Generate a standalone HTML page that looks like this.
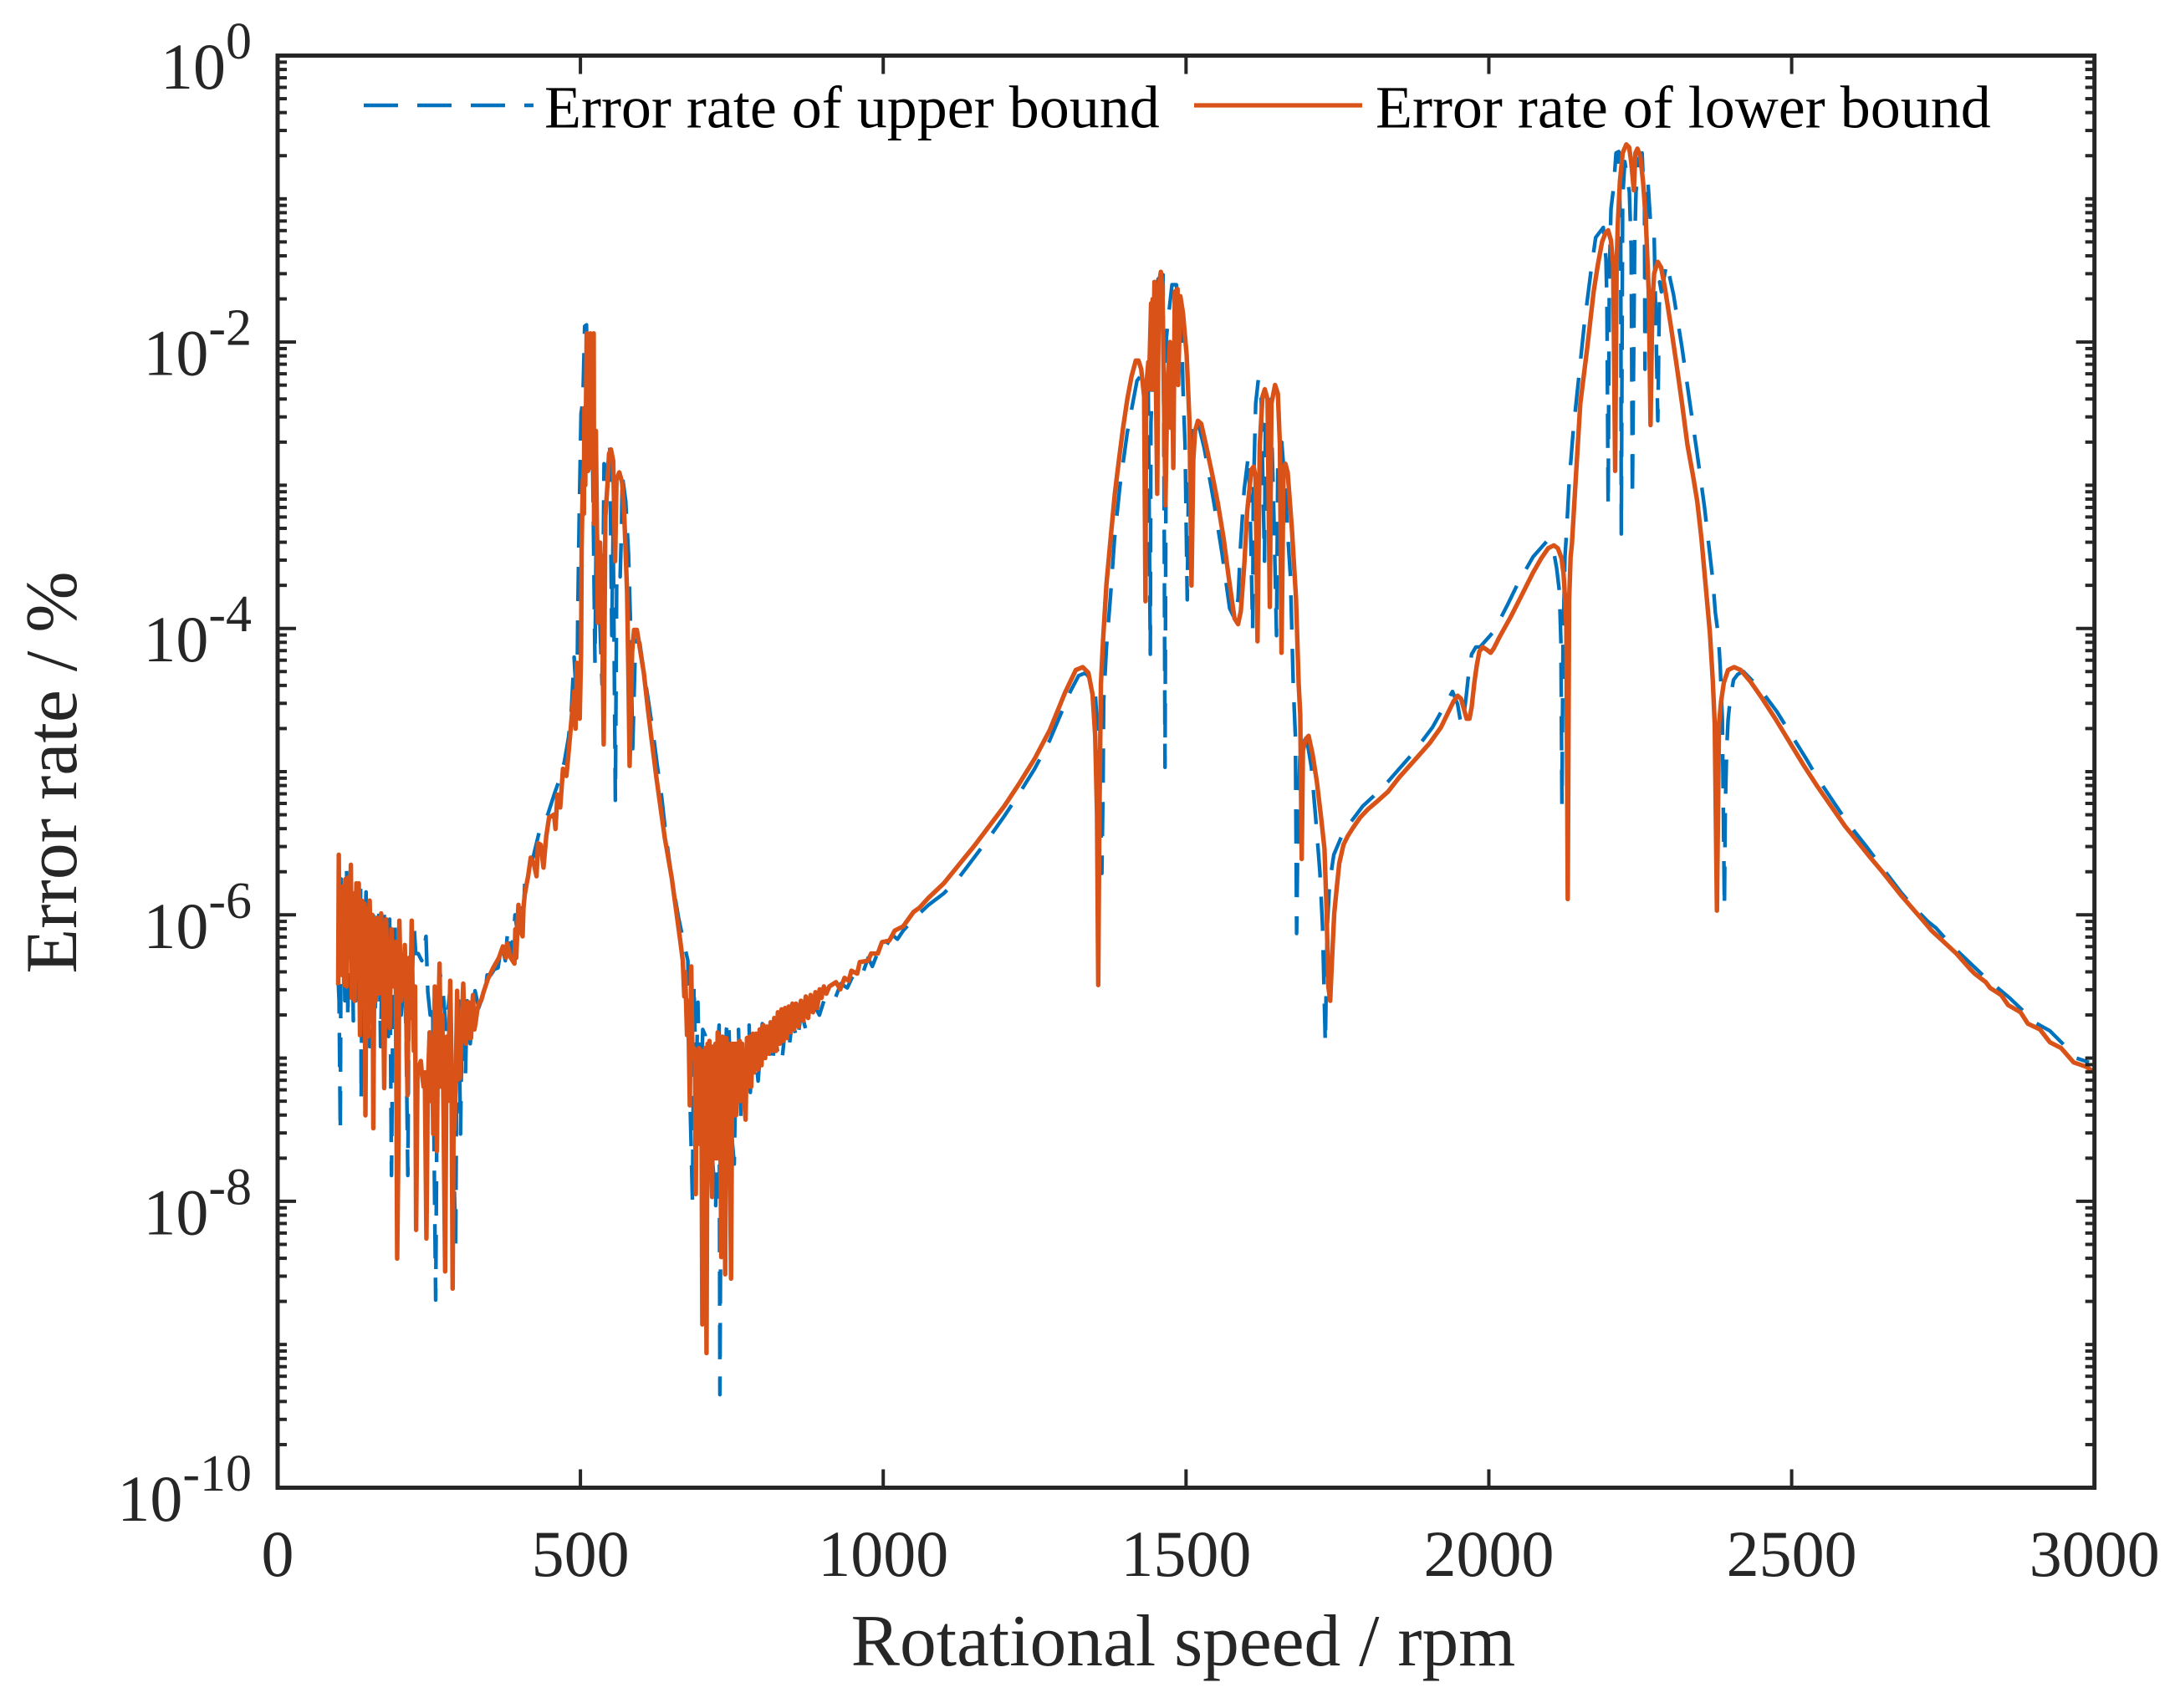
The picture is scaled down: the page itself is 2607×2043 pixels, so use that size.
<!DOCTYPE html>
<html lang="en">
<head>
<meta charset="utf-8">
<title>Error rate versus rotational speed</title>
<style>
html,body{margin:0;padding:0;background:#fff;}
svg{display:block;font-family:"Liberation Serif",serif;}
</style>
</head>
<body>
<svg id="chart" xmlns="http://www.w3.org/2000/svg" width="2607" height="2043" viewBox="0 0 2607 2043">
  <rect x="0" y="0" width="2607" height="2043" fill="#ffffff"/>
  <g id="series"></g>
  <g id="axes"></g>
  <text x="1415" y="1992" font-size="87.5" text-anchor="middle" fill="#262626">Rotational speed / rpm</text>
  <text transform="translate(91,924) rotate(-90)" font-size="88" text-anchor="middle" fill="#262626">Error rate / %</text>
  <g>
    <line x1="435" y1="126" x2="638" y2="126" stroke="#0072BD" stroke-width="4.4" stroke-dasharray="41 23"/>
    <text x="651" y="152.5" font-size="72" fill="#000000">Error rate of upper bound</text>
    <line x1="1428" y1="126" x2="1629" y2="126" stroke="#D95319" stroke-width="5.2"/>
    <text x="1645" y="152.5" font-size="72" fill="#000000">Error rate of lower bound</text>
  </g>
</svg>
<script>
/* Tick values */
const xTickValues = [0, 500, 1000, 1500, 2000, 2500, 3000];
const yLabelExponents = [0, -2, -4, -6, -8, -10];
const yDecadeExponents = [0, -1, -2, -3, -4, -5, -6, -7, -8, -9, -10];
const yMinorMantissas = [2, 3, 4, 5, 6, 7, 8, 9];

/* Series values: [rotational speed in rpm, log10 of the error rate] */
const upperLowSpeed = [[100,-6.45],[101.5,-6.6],[103.5,-7.52],[105,-5.75],[107,-6.4],[109,-5.9],[111,-6.6],[114,-5.69],[116,-6.73],[118,-5.9],[121,-6.3],[123,-6.05],[125,-6.74],[127,-6.0],[129,-6.6],[131,-5.85],[134,-6.5],[137,-5.77],[138,-7.29],[140,-6.0],[143,-6.3],[146,-5.84],[149,-6.5],[152,-6.92],[155,-6.0],[158,-5.96],[161,-6.7],[164,-6.0],[167,-5.95],[170,-6.92],[173,-6.2],[176,-5.99],[179,-6.6],[183,-6.85],[185,-6.03],[188,-7.82],[191,-6.3],[194,-6.07],[197,-7.94],[200,-6.5],[204,-6.7],[208,-6.3],[212,-6.8],[215,-7.82],[217,-6.5],[220,-6.8],[225,-6.05],[228,-6.27],[232,-6.27],[238,-6.32],[245,-6.15],[248,-6.54],[252,-6.7],[256,-6.6],[258,-7.5],[261,-8.69],[264,-6.8],[268,-6.4],[273,-6.53],[278,-6.8],[284,-6.55],[290,-7.6],[294,-8.3],[296,-6.9],[299,-6.6],[302,-7.53],[305,-6.6],[310,-7.13],[313,-6.6],[318,-6.9],[326,-6.53],[332,-6.65],[336,-6.6],[342,-6.55],[346,-6.42],[352,-6.42],[358,-6.38],[364,-6.37],[370,-6.2],[376,-6.32],[380,-6.1],[386,-6.3],[392,-6.0],[396,-6.12],[398,-5.95],[403,-5.93],[406,-5.98],[409,-5.7]];
const upperFirstPeak = [[420.6,-5.62],[432,-5.42],[446,-5.3],[457.4,-5.15],[466.6,-5.04],[473.5,-4.93],[480.4,-4.76],[485,-4.57],[489.6,-4.2],[494.2,-4.56],[495.6,-3.9],[498,-3.22],[501,-2.5],[504,-2.41],[507,-1.89],[510,-1.88],[515,-2.91],[517,-1.95],[519.6,-2.62],[524,-4.24],[526.5,-3.09],[530,-3.7],[535.7,-4.39],[539,-2.85],[544,-2.9],[548.5,-2.72],[551.8,-4.05],[554,-3.3],[557.7,-5.2],[560,-3.6],[565.6,-3.64],[568,-3.27],[569,-2.93],[574.8,-3.11],[579.4,-3.48],[582.6,-3.95],[586.3,-4.84],[591,-4.08],[598,-4.1],[605,-4.31],[612,-4.5],[620,-4.73],[627,-4.96],[634,-5.17],[641,-5.44],[650,-5.72]];
const upperNoisyValley = [[662,-6.02],[671,-6.2],[677.4,-6.32],[681,-7.3],[685,-8.0],[687.5,-6.48],[691,-7.2],[694,-6.61],[698,-7.5],[702,-6.8],[706,-6.84],[710,-7.5],[714,-6.9],[718,-7.7],[723.4,-8.03],[726,-7.0],[729,-6.77],[730.3,-9.35],[733,-6.95],[737,-7.6],[741,-6.8],[745,-6.73],[749,-7.5],[754,-7.74],[757,-6.95],[761,-6.8],[765,-7.43],[769,-7.0],[773,-7.1],[778.6,-6.77],[780.5,-7.24],[786,-6.85],[793.4,-7.16],[800.3,-6.76],[806,-7.0],[811,-6.85],[816.4,-7.05],[822,-6.85],[827,-7.0],[832.5,-7.03],[838,-6.8],[844,-6.94],[850,-6.74],[858,-6.88],[865,-6.68],[872,-6.8],[878.5,-6.77],[886,-6.63],[894.6,-6.7],[905,-6.56],[920,-6.59],[930,-6.48],[940.6,-6.51],[955,-6.38],[966,-6.41],[975,-6.3],[982,-6.36],[995,-6.22],[1003,-6.23],[1015,-6.14],[1023.5,-6.17],[1033,-6.11]];
const upperRise = [[1050,-6.03],[1075,-5.93],[1100,-5.85],[1125,-5.74],[1150,-5.6],[1175,-5.46],[1200,-5.31],[1225,-5.15],[1250,-4.98],[1275,-4.78],[1300,-4.53],[1309,-4.44],[1322.6,-4.33],[1334,-4.31],[1343,-4.36],[1350,-4.44],[1353,-4.66],[1358,-5.1],[1361,-5.71],[1363,-5.1],[1364,-4.51]];
const upperSecondPeak = [[1368.6,-4.13],[1375.5,-3.76],[1382,-3.37],[1390.7,-3.01],[1403,-2.63],[1419,-2.27],[1432,-2.2],[1437.6,-2.33],[1441,-4.18],[1442,-2.57],[1444,-2.33],[1453.8,-1.56],[1462,-1.53],[1464,-3.3],[1465.3,-4.97],[1467.6,-1.97],[1471,-1.82],[1476.8,-1.6],[1484,-1.6],[1493,-1.97],[1495,-2.33],[1498.4,-2.72],[1502,-3.8],[1504,-3.0],[1513.6,-2.55],[1518,-2.53],[1530,-2.74],[1546,-3.12],[1559.6,-3.48],[1572,-3.86],[1580,-3.93],[1586,-3.79],[1590,-3.42],[1596,-3.03],[1603,-2.79],[1606,-3.2],[1610,-4.0],[1611,-3.1],[1615,-2.43],[1619.4,-2.26],[1624,-2.38],[1629.6,-3.53],[1631,-2.57],[1640,-2.4],[1645,-3.2],[1649.4,-4.05],[1651.6,-2.82],[1658,-2.7],[1664.5,-3.06],[1667,-3.28],[1672.4,-3.64],[1677,-4.39],[1680.6,-4.76],[1682.6,-6.13],[1684.5,-5.5],[1688.6,-4.78],[1693,-4.77],[1700,-4.79],[1707,-4.97],[1714,-5.32],[1721,-5.7],[1725.4,-6.08],[1730,-6.9],[1733,-6.1],[1737,-5.78],[1744,-5.58],[1760,-5.42],[1792,-5.24],[1815,-5.15]];
const upperMidRange = [[1833.5,-5.07],[1852,-4.98],[1875,-4.87],[1907,-4.69],[1925.5,-4.55],[1940,-4.44],[1948.5,-4.53],[1954,-4.67],[1958,-4.63],[1963,-4.46],[1967,-4.3],[1971.6,-4.18],[1978.5,-4.13],[1985.4,-4.13],[2008.4,-4.02],[2031.4,-3.83],[2047.5,-3.69],[2073,-3.5],[2096,-3.39],[2105,-3.41],[2112,-3.58],[2116.5,-3.74],[2119,-4.09],[2120.7,-5.23],[2122.5,-4.09],[2125.7,-3.5]];
const upperThirdPeak = [[2128,-3.35],[2132.6,-2.98],[2139.5,-2.61],[2148.7,-2.24],[2158,-1.86],[2169.4,-1.48],[2176.4,-1.27],[2189,-1.2],[2193.4,-1.42],[2195,-1.73],[2197,-3.15],[2199,-1.52],[2201.7,-1.07],[2206,-0.92],[2210,-0.68],[2214.5,-0.67],[2217.8,-1.3],[2218.7,-3.34],[2221,-0.99],[2224.5,-0.74],[2232,-0.95],[2235,-1.34],[2237,-3.09],[2240.8,-1.32],[2243,-0.95],[2247.7,-0.72],[2253,-0.68],[2257,-1.05],[2257.8,-2.19],[2259.5,-1.2],[2262.4,-0.86],[2267,-1.17],[2273,-1.27],[2279,-2.55],[2282,-1.58],[2285,-1.65],[2293.7,-1.45],[2305,-1.67],[2319,-2.04],[2331.4,-2.41],[2344,-2.78],[2356,-3.15],[2362.7,-3.4],[2370,-3.67],[2374,-3.89],[2379,-4.05],[2382,-4.26],[2383.5,-4.42],[2385.5,-4.63],[2389,-5.95],[2390.4,-5.25],[2392.7,-4.85],[2395,-4.64],[2398.6,-4.49],[2404,-4.36],[2411,-4.32],[2420,-4.3]];
const upperTail = [[2445.6,-4.41],[2475.5,-4.58],[2496,-4.72],[2524,-4.91],[2542,-5.04],[2572,-5.23],[2593,-5.36],[2623,-5.52],[2646,-5.65],[2680,-5.84],[2700,-5.94],[2726,-6.05],[2738,-6.09],[2761,-6.2],[2798,-6.35],[2823,-6.45],[2860,-6.58],[2887,-6.69],[2901,-6.75],[2926.5,-6.81],[2950,-6.91],[2970,-7.0],[2991,-7.03]];

const lowerLowSpeed = [[100,-6.49],[101,-5.58],[102,-6.4],[104,-5.85],[106,-6.42],[108,-5.8],[110,-6.49],[112,-5.75],[114,-6.5],[116,-5.74],[118,-6.3],[121,-5.65],[122.5,-6.58],[125,-5.85],[127,-6.6],[130,-5.78],[132,-6.45],[134,-5.78],[136,-6.84],[139,-5.9],[142,-6.45],[143.5,-5.92],[145,-7.4],[147,-5.95],[149.5,-6.85],[152,-5.9],[155,-6.55],[156.5,-6.0],[158,-7.49],[160,-6.05],[162,-6.6],[164,-6.02],[167,-6.55],[171,-5.99],[174,-6.5],[176,-7.21],[179,-6.03],[182,-6.45],[185,-6.79],[188,-6.1],[191,-6.5],[195,-6.19],[197.4,-8.4],[199.5,-7.59],[201,-6.04],[204,-6.6],[206,-6.4],[208,-6.55],[210,-6.21],[212,-6.6],[214.5,-7.26],[217,-6.3],[219,-6.7],[221.4,-6.04],[223,-6.6],[225,-6.95],[227,-6.5],[228.7,-8.2],[231,-7.09],[236.5,-7.02],[238,-7.1],[241,-7.2],[243,-7.1],[245.7,-8.26],[248,-7.19],[251,-6.82],[253,-7.3],[255,-6.9],[257,-7.53],[259.5,-6.5],[263,-7.65],[265,-6.8],[267.4,-6.34],[270,-7.2],[272,-6.7],[274,-7.4],[276.6,-8.49],[279,-6.85],[281,-7.3],[283,-6.9],[285,-6.46],[287,-7.0],[289,-8.61],[291,-7.09],[292,-7.5],[294,-7.2],[296.4,-6.53],[298,-7.15],[301,-7.14],[303,-6.9],[306.5,-6.48],[309,-6.85],[311,-6.9],[315,-6.61],[317,-6.86],[319.4,-6.86],[321,-6.65],[322.6,-6.56],[325,-6.8],[327,-6.75],[329.5,-6.67],[333,-6.61],[336,-6.6],[340,-6.54],[347,-6.45],[356,-6.37],[365.4,-6.3],[372,-6.22],[377,-6.3],[379.2,-6.2],[385,-6.3],[391,-6.34],[392.5,-6.1],[394,-6.3],[397.6,-5.93],[400,-6.1],[404.5,-6.15],[406,-5.95],[408,-5.86],[411.4,-5.78]];
const lowerFirstPeak = [[414,-5.72],[418,-5.6],[422.9,-5.64],[427.5,-5.73],[430,-5.5],[434.4,-5.51],[439,-5.67],[443.6,-5.45],[448.2,-5.32],[456.5,-5.3],[458.8,-5.4],[462,-5.16],[466.6,-5.25],[471.2,-4.98],[476.8,-5.03],[479.5,-4.91],[485,-4.65],[489.6,-4.44],[492,-4.7],[494.2,-4.24],[497,-4.4],[498.8,-4.63],[501.1,-4.16],[502,-3.43],[504,-2.96],[505.7,-3.2],[506.5,-2.46],[508,-3.0],[510.3,-1.94],[512.6,-2.9],[514.5,-2.0],[516.3,-1.94],[518.2,-2.88],[520,-2.0],[521.9,-1.94],[522.5,-3.27],[525.5,-2.62],[527,-3.2],[528.8,-3.96],[532.4,-3.4],[535.7,-3.79],[538.4,-4.81],[541.2,-3.22],[544.9,-2.98],[547.2,-2.78],[550.4,-2.75],[554.1,-2.83],[557.3,-3.53],[559.6,-2.96],[564.2,-2.91],[568.8,-2.98],[572.5,-3.22],[577,-3.74],[579.4,-4.37],[581.2,-4.96],[585.4,-4.16],[588.6,-4.01],[593.2,-4.01],[597.8,-4.13],[604.7,-4.31],[611.6,-4.57],[618.5,-4.81],[625.4,-5.04],[632.3,-5.25],[639.2,-5.46],[650.7,-5.74]];
const lowerNoisyValley = [[660,-6.03],[664.5,-6.17],[669,-6.32],[671.5,-6.57],[673,-6.4],[676,-6.84],[678,-6.6],[680.6,-7.33],[683,-6.36],[685,-7.0],[687.5,-6.93],[689,-6.95],[690.5,-7.95],[692,-7.0],[694,-7.6],[696,-6.93],[698,-7.6],[699.5,-6.95],[701.3,-8.86],[703,-7.2],[704.5,-8.8],[706,-6.93],[708.2,-9.06],[710,-6.9],[711.5,-7.7],[713,-6.88],[715,-7.6],[717.4,-7.97],[719,-6.92],[721,-7.7],[723,-6.9],[725,-7.7],[726.6,-6.82],[728.5,-7.7],[730,-6.85],[732.6,-8.39],[734.5,-6.85],[736,-7.7],[737.5,-6.86],[739,-8.51],[741,-6.86],[743,-7.6],[745,-6.9],[748.7,-8.54],[751,-6.9],[753,-7.4],[755,-6.9],[757,-7.4],[759,-6.9],[761,-7.3],[763,-6.88],[765,-7.3],[767,-6.9],[769,-7.2],[772.7,-7.43],[775,-6.86],[777.3,-7.2],[779,-6.85],[782,-7.2],[785,-6.83],[787,-7.1],[790,-6.83],[793,-7.08],[796,-6.8],[799,-7.05],[802,-6.77],[805,-7.0],[808,-6.78],[811,-6.97],[814,-6.75],[817,-6.95],[820,-6.72],[823,-6.95],[826,-6.68],[829,-6.9],[832,-6.66],[835,-6.88],[838,-6.65],[841,-6.86],[844,-6.64],[847,-6.82],[850,-6.62],[853,-6.8],[856,-6.62],[860,-6.78],[864,-6.6],[868,-6.74],[872,-6.57],[876,-6.72],[880,-6.56],[884,-6.68],[888,-6.54],[891,-6.65],[895,-6.52],[898,-6.58],[902,-6.5],[906,-6.55],[911,-6.5],[922,-6.47],[929,-6.52],[936,-6.44],[943,-6.46],[947.5,-6.39],[957,-6.41],[961.3,-6.33],[975,-6.32],[980,-6.27],[991,-6.27],[998,-6.19],[1010,-6.18],[1019,-6.11],[1033,-6.08]];
const lowerRise = [[1050,-5.98],[1060,-5.95],[1075,-5.88],[1100,-5.78],[1125,-5.65],[1150,-5.52],[1175,-5.38],[1200,-5.24],[1225,-5.08],[1250,-4.91],[1275,-4.71],[1300,-4.45],[1309,-4.37],[1318,-4.29],[1329.5,-4.27],[1338.7,-4.31],[1345.6,-4.46],[1350,-4.75],[1353,-5.3],[1355,-6.49],[1357,-5.3],[1359.4,-4.39]];
const lowerSecondPeak = [[1363,-4.08],[1368.6,-3.69],[1375.5,-3.37],[1382.4,-3.06],[1389.3,-2.82],[1396,-2.6],[1403,-2.4],[1410,-2.24],[1417,-2.13],[1421.5,-2.13],[1426,-2.19],[1430.8,-2.38],[1433,-3.81],[1434,-2.33],[1437.7,-2.14],[1438.6,-2.33],[1442.3,-1.73],[1443.6,-2.33],[1444.8,-1.7],[1446,-2.2],[1447.8,-1.58],[1450,-2.2],[1452.4,-3.06],[1455,-1.61],[1458.4,-1.51],[1461,-1.61],[1466,-3.14],[1469,-2.33],[1473.5,-2.0],[1475,-2.6],[1477,-2.2],[1479,-2.88],[1481.4,-1.65],[1486,-1.63],[1487,-2.3],[1490.6,-1.68],[1495,-1.8],[1501,-2.09],[1505.8,-2.57],[1509,-3.7],[1512,-2.82],[1515,-2.62],[1519.6,-2.55],[1525,-2.57],[1534,-2.74],[1543.5,-2.93],[1552.7,-3.13],[1562,-3.37],[1571,-3.66],[1580,-3.93],[1586,-3.97],[1590.4,-3.88],[1596.4,-3.54],[1601,-3.18],[1608,-2.89],[1611.6,-2.87],[1614.8,-2.94],[1618,-4.09],[1621.7,-2.72],[1626.3,-2.38],[1630,-2.33],[1634.6,-2.4],[1638.3,-3.85],[1641,-2.43],[1647,-2.3],[1651.6,-2.36],[1655,-2.72],[1657.6,-4.17],[1661,-2.89],[1664,-2.85],[1667.8,-2.91],[1674.7,-3.3],[1681.6,-3.79],[1686,-4.39],[1688.6,-4.6],[1691,-5.61],[1693,-4.85],[1698,-4.77],[1702.4,-4.75],[1709,-4.88],[1716,-5.07],[1723,-5.32],[1728.6,-5.54],[1732,-5.96],[1735,-6.5],[1738,-6.6],[1741.5,-6.27],[1744.7,-5.99],[1748.4,-5.83],[1753,-5.64],[1760,-5.51],[1767,-5.45],[1776,-5.39],[1787.5,-5.32],[1801,-5.26],[1815,-5.21]];
const lowerMidRange = [[1833.5,-5.14],[1852,-5.04],[1879.5,-4.91],[1902.5,-4.8],[1921,-4.69],[1932.4,-4.59],[1941.6,-4.51],[1948.5,-4.47],[1954,-4.49],[1958.7,-4.56],[1963.3,-4.63],[1968,-4.63],[1971.6,-4.55],[1976,-4.38],[1980,-4.26],[1984.4,-4.16],[1990,-4.13],[1997,-4.15],[2003,-4.17],[2008,-4.14],[2017.6,-4.06],[2036,-3.92],[2054,-3.77],[2073,-3.61],[2086.6,-3.51],[2098,-3.44],[2107.3,-3.42],[2114,-3.44],[2120,-3.51],[2123.4,-3.62],[2126,-3.8],[2128,-3.99],[2130.3,-5.89],[2132.6,-3.8],[2135,-3.5]];
const lowerThirdPeak = [[2137.2,-3.41],[2144,-2.92],[2151,-2.43],[2162.5,-2.04],[2173,-1.65],[2180,-1.46],[2187,-1.3],[2192.5,-1.24],[2197,-1.22],[2201.6,-1.29],[2205.3,-1.46],[2208.6,-2.9],[2211,-1.46],[2213,-1.17],[2216.4,-0.88],[2221,-0.68],[2227,-0.62],[2231.6,-0.64],[2235,-0.74],[2239.4,-0.94],[2242,-0.68],[2245.4,-0.65],[2250,-0.7],[2254.6,-0.88],[2259,-1.13],[2264,-1.65],[2267,-2.58],[2270,-1.73],[2273,-1.52],[2279,-1.44],[2284.5,-1.48],[2291.4,-1.64],[2300.6,-1.89],[2310,-2.16],[2319,-2.43],[2328,-2.72],[2337.4,-2.94],[2344,-3.11],[2347,-3.22],[2351,-3.37],[2358,-3.7],[2365,-4.03],[2369.7,-4.36],[2373,-4.67],[2376.6,-5.97],[2380,-4.67],[2383.5,-4.51],[2388,-4.38],[2395,-4.29],[2405,-4.27],[2415.7,-4.29]];
const lowerTail = [[2431.8,-4.37],[2450,-4.48],[2473,-4.63],[2496,-4.79],[2519,-4.95],[2542,-5.1],[2565,-5.24],[2588,-5.38],[2611,-5.5],[2630,-5.6],[2648,-5.69],[2680,-5.86],[2717,-6.04],[2731,-6.11],[2749,-6.18],[2772,-6.27],[2795,-6.38],[2802,-6.41],[2820.6,-6.47],[2827.6,-6.51],[2846,-6.56],[2857.5,-6.63],[2878,-6.68],[2890,-6.76],[2910,-6.8],[2926.5,-6.89],[2945,-6.93],[2965.6,-7.03],[2986,-7.06],[3000,-7.1]];

/* Axis functions */
const plotLeft = 332, plotRight = 2504.7, plotTop = 66.5, plotBottom = 1779.5;
const xDomainMax = 3000, yDomainMin = -10, yDomainMax = 0;
function xAxis(rpm) {
  return plotLeft + (rpm / xDomainMax) * (plotRight - plotLeft);
}
function yAxis(logRate) {
  return plotTop + ((yDomainMax - logRate) / (yDomainMax - yDomainMin)) * (plotBottom - plotTop);
}

const SVG_NS = 'http://www.w3.org/2000/svg';
const seriesGroup = document.getElementById('series');
const axesGroup = document.getElementById('axes');
const inkColor = '#262626';

function makeLinePath(points) {
  return points.map(function (p, i) {
    return (i ? 'L' : 'M') + xAxis(p[0]).toFixed(2) + ' ' + yAxis(p[1]).toFixed(2);
  }).join('');
}

function addTick(name, x1, y1, x2, y2, width) {
  const el = document.createElementNS(SVG_NS, 'line');
  
  
  el.setAttribute('x1', x1);
  el.setAttribute('y1', y1);
  el.setAttribute('x2', x2);
  el.setAttribute('y2', y2);
  el.setAttribute('stroke', inkColor);
  el.setAttribute('stroke-width', width);
  axesGroup.appendChild(el);
}

/* Series */
const upperPoints = [].concat(upperLowSpeed, upperFirstPeak, upperNoisyValley, upperRise, upperSecondPeak, upperMidRange, upperThirdPeak, upperTail);
const lowerPoints = [].concat(lowerLowSpeed, lowerFirstPeak, lowerNoisyValley, lowerRise, lowerSecondPeak, lowerMidRange, lowerThirdPeak, lowerTail);

const upperLine = document.createElementNS(SVG_NS, 'path');


upperLine.setAttribute('d', makeLinePath(upperPoints));
upperLine.setAttribute('fill', 'none');
upperLine.setAttribute('stroke', '#0072BD');
upperLine.setAttribute('stroke-width', '4.4');
upperLine.setAttribute('stroke-dasharray', '41 23');
upperLine.setAttribute('stroke-linejoin', 'round');
seriesGroup.appendChild(upperLine);

const lowerLine = document.createElementNS(SVG_NS, 'path');


lowerLine.setAttribute('d', makeLinePath(lowerPoints));
lowerLine.setAttribute('fill', 'none');
lowerLine.setAttribute('stroke', '#D95319');
lowerLine.setAttribute('stroke-width', '5.4');
lowerLine.setAttribute('stroke-linejoin', 'round');
seriesGroup.appendChild(lowerLine);

/* Frame */
const frame = document.createElementNS(SVG_NS, 'rect');


frame.setAttribute('x', plotLeft);
frame.setAttribute('y', plotTop);
frame.setAttribute('width', plotRight - plotLeft);
frame.setAttribute('height', plotBottom - plotTop);
frame.setAttribute('fill', 'none');
frame.setAttribute('stroke', inkColor);
frame.setAttribute('stroke-width', '5');
axesGroup.appendChild(frame);

/* X ticks and labels */
const majorTickLength = 22, minorTickLength = 11;
xTickValues.forEach(function (value) {
  const x = xAxis(value);
  if (value > 0 && value < xDomainMax) {
    addTick('x-tick-bottom', x, plotBottom, x, plotBottom - majorTickLength, 4);
    addTick('x-tick-top', x, plotTop, x, plotTop + majorTickLength, 4);
  }
  const label = document.createElementNS(SVG_NS, 'text');
  
  
  label.setAttribute('x', x);
  label.setAttribute('y', 1885);
  label.setAttribute('font-size', '78');
  label.setAttribute('text-anchor', 'middle');
  label.setAttribute('fill', inkColor);
  label.textContent = String(value);
  axesGroup.appendChild(label);
});

/* Y ticks */
yDecadeExponents.forEach(function (exponent) {
  const isLabelled = yLabelExponents.indexOf(exponent) !== -1;
  const y = yAxis(exponent);
  const len = isLabelled ? majorTickLength : minorTickLength;
  if (exponent !== yDomainMax && exponent !== yDomainMin) {
    addTick('y-tick-left', plotLeft, y, plotLeft + len, y, 4);
    addTick('y-tick-right', plotRight, y, plotRight - len, y, 4);
  }
  if (exponent > yDomainMin) {
    yMinorMantissas.forEach(function (mantissa) {
      const my = yAxis(exponent - 1 + Math.log10(mantissa));
      addTick('y-minor-tick-left', plotLeft, my, plotLeft + minorTickLength, my, 4);
      addTick('y-minor-tick-right', plotRight, my, plotRight - minorTickLength, my, 4);
    });
  }
});

/* Y labels */
yLabelExponents.forEach(function (exponent) {
  const y = yAxis(exponent);
  const label = document.createElementNS(SVG_NS, 'text');
  
  
  label.setAttribute('x', 301);
  label.setAttribute('y', y + 39.5);
  label.setAttribute('font-size', '78');
  label.setAttribute('text-anchor', 'end');
  label.setAttribute('fill', inkColor);
  label.appendChild(document.createTextNode('10'));
  const sup = document.createElementNS(SVG_NS, 'tspan');
  
  
  sup.setAttribute('dy', '-36');
  sup.setAttribute('font-size', '62');
  sup.textContent = String(exponent);
  label.appendChild(sup);
  axesGroup.appendChild(label);
});
</script>
</body>
</html>
